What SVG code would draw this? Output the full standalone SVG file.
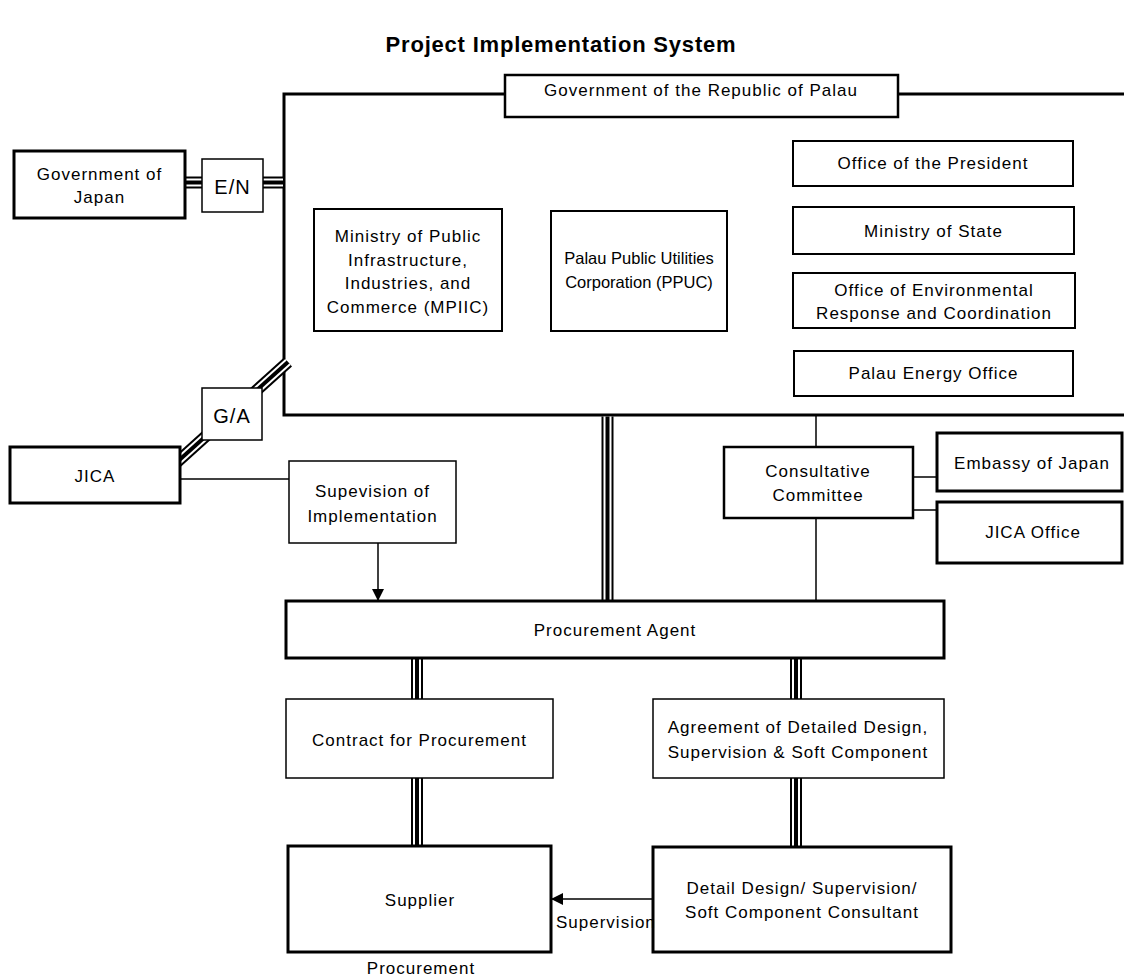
<svg xmlns="http://www.w3.org/2000/svg" xmlns:xlink="http://www.w3.org/1999/xlink" width="1124" height="977" viewBox="0 0 1124 977">
<style>
  text { font-family: "Liberation Sans", Arial, sans-serif; font-size: 17px; letter-spacing: 1px; fill: #000; text-anchor: middle; }
  .title { font-size: 22px; font-weight: bold; letter-spacing: 0.8px; }
  .big { font-size: 20px; }
  .tight { font-size: 16.5px; letter-spacing: 0; }
  .left { text-anchor: start; }
  rect { fill: #fff; stroke: #000; }
  .thick { stroke-width: 3; }
  .med { stroke-width: 2.5; }
  .norm { stroke-width: 2; }
  .thin { stroke-width: 1.5; }
  .line { fill: none; stroke: #000; stroke-width: 1.5; }
  .tl-o { fill: none; stroke: #000; stroke-width: 12; }
  .tl-m { fill: none; stroke: #fff; stroke-width: 8; }
  .tl-c { fill: none; stroke: #000; stroke-width: 4; }
</style>
<defs>
  <marker id="arrow" markerUnits="userSpaceOnUse" markerWidth="12" markerHeight="12" refX="12" refY="6" orient="auto">
    <path d="M0,0 L12,6 L0,12 z" fill="#000"/>
  </marker>
  <path id="t1" d="M185,182.5 H202"/>
  <path id="t2" d="M263,182.5 H283"/>
  <path id="t3" d="M176,463 L288,362"/>
  <path id="t4" d="M607.5,416.5 V601"/>
  <path id="t5" d="M417,658 V699"/>
  <path id="t6" d="M417,778 V846"/>
  <path id="t7" d="M796,658 V699"/>
  <path id="t8" d="M796,778 V847"/>
</defs>
<rect x="0" y="0" width="1124" height="977" style="fill:#fff;stroke:none"/>
<text class="title" x="561" y="52">Project Implementation System</text>

<g id="gov-palau-frame">
  <path d="M1126,94 H284 V415 H1126" fill="none" stroke="#000" stroke-width="3"/>
</g>

<g id="connectors">
  <use xlink:href="#t1" class="tl-o"/><use xlink:href="#t1" class="tl-m"/><use xlink:href="#t1" class="tl-c"/>
  <use xlink:href="#t2" class="tl-o"/><use xlink:href="#t2" class="tl-m"/><use xlink:href="#t2" class="tl-c"/>
  <use xlink:href="#t3" class="tl-o"/><use xlink:href="#t3" class="tl-m"/><use xlink:href="#t3" class="tl-c"/>
  <use xlink:href="#t4" class="tl-o"/><use xlink:href="#t4" class="tl-m"/><use xlink:href="#t4" class="tl-c"/>
  <use xlink:href="#t5" class="tl-o"/><use xlink:href="#t5" class="tl-m"/><use xlink:href="#t5" class="tl-c"/>
  <use xlink:href="#t6" class="tl-o"/><use xlink:href="#t6" class="tl-m"/><use xlink:href="#t6" class="tl-c"/>
  <use xlink:href="#t7" class="tl-o"/><use xlink:href="#t7" class="tl-m"/><use xlink:href="#t7" class="tl-c"/>
  <use xlink:href="#t8" class="tl-o"/><use xlink:href="#t8" class="tl-m"/><use xlink:href="#t8" class="tl-c"/>
  <path class="line" d="M180,479 H289"/>
  <path class="line" d="M378,543 V601" marker-end="url(#arrow)"/>
  <path class="line" d="M816,416 V447"/>
  <path class="line" d="M816,518 V601"/>
  <path class="line" d="M913,477 H937"/>
  <path class="line" d="M913,510 H937"/>
  <path class="line" d="M653,899 H551" marker-end="url(#arrow)"/>
</g>

<g id="gov-palau">
  <rect class="med" x="505" y="75" width="393" height="42"/>
  <text x="701" y="96">Government of the Republic of Palau</text>
</g>
<g id="gov-japan">
  <rect class="thick" x="14" y="151" width="171" height="67"/>
  <text x="99.5" y="180">Government of</text>
  <text x="99.5" y="203">Japan</text>
</g>
<g id="en">
  <rect class="thin" x="202" y="159" width="61" height="53"/>
  <text class="big" x="232.5" y="194">E/N</text>
</g>
<g id="ga">
  <rect class="thin" x="202" y="388" width="60" height="52"/>
  <text class="big" x="232" y="423">G/A</text>
</g>
<g id="jica">
  <rect class="thick" x="10" y="447" width="170" height="56"/>
  <text x="95" y="482">JICA</text>
</g>
<g id="supervision-impl">
  <rect class="thin" x="289" y="461" width="167" height="82"/>
  <text x="372.5" y="497">Supevision of</text>
  <text x="372.5" y="522">Implementation</text>
</g>
<g id="mpiic">
  <rect class="norm" x="314" y="209" width="188" height="122"/>
  <text x="408" y="242">Ministry of Public</text>
  <text x="408" y="266">Infrastructure,</text>
  <text x="408" y="289">Industries, and</text>
  <text x="408" y="313">Commerce (MPIIC)</text>
</g>
<g id="ppuc">
  <rect class="norm" x="551" y="211" width="176" height="120"/>
  <text class="tight" x="639" y="264">Palau Public Utilities</text>
  <text class="tight" x="639" y="288">Corporation (PPUC)</text>
</g>
<g id="office-president">
  <rect class="norm" x="793" y="141" width="280" height="45"/>
  <text x="933" y="169">Office of the President</text>
</g>
<g id="ministry-state">
  <rect class="norm" x="793" y="207" width="281" height="47"/>
  <text x="933.5" y="237">Ministry of State</text>
</g>
<g id="oerc">
  <rect class="norm" x="793" y="273" width="282" height="55"/>
  <text x="934" y="296">Office of Environmental</text>
  <text x="934" y="319">Response and Coordination</text>
</g>
<g id="energy-office">
  <rect class="norm" x="794" y="351" width="279" height="45"/>
  <text x="933.5" y="379">Palau Energy Office</text>
</g>
<g id="consultative-committee">
  <rect class="med" x="724" y="447" width="189" height="71"/>
  <text x="818" y="477">Consultative</text>
  <text x="818" y="501">Committee</text>
</g>
<g id="embassy">
  <rect class="thick" x="937" y="433" width="185" height="58"/>
  <text x="1032" y="469">Embassy of Japan</text>
</g>
<g id="jica-office">
  <rect class="thick" x="937" y="502" width="185" height="61"/>
  <text x="1033" y="538">JICA Office</text>
</g>
<g id="procurement-agent">
  <rect class="thick" x="286" y="601" width="658" height="57"/>
  <text x="615" y="636">Procurement Agent</text>
</g>
<g id="contract">
  <rect class="thin" x="286" y="699" width="267" height="79"/>
  <text x="419.5" y="746">Contract for Procurement</text>
</g>
<g id="agreement">
  <rect class="thin" x="653" y="699" width="291" height="79"/>
  <text x="798" y="733">Agreement of Detailed Design,</text>
  <text x="798" y="758">Supervision &amp; Soft Component</text>
</g>
<g id="supplier">
  <rect class="thick" x="288" y="846" width="263" height="106"/>
  <text x="420" y="906">Supplier</text>
  <text x="421" y="974">Procurement</text>
</g>
<g id="consultant">
  <rect class="thick" x="653" y="847" width="298" height="105"/>
  <text x="802" y="894">Detail Design/ Supervision/</text>
  <text x="802" y="918">Soft Component Consultant</text>
</g>
<g id="supervision-label">
  <text class="left" x="556" y="928">Supervision</text>
</g>
</svg>
